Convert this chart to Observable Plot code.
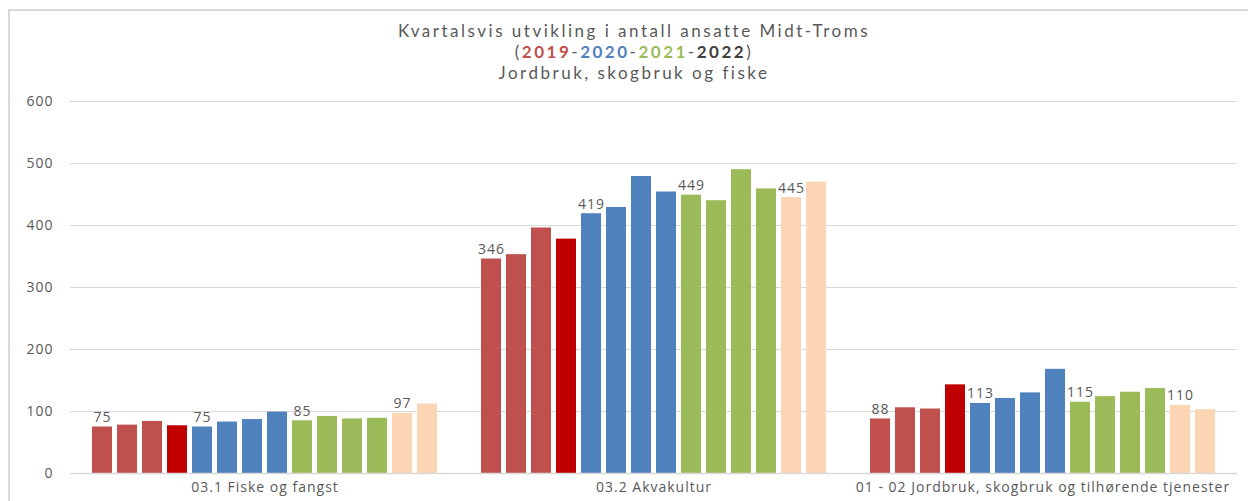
<!DOCTYPE html>
<html>
<head>
<meta charset="utf-8">
<script src="https://cdn.jsdelivr.net/npm/d3@7"></script>
<script src="https://cdn.jsdelivr.net/npm/@observablehq/plot@0.6"></script>
<style>
  html, body { margin: 0; padding: 0; background: #fff; }
  body { width: 1248px; height: 501px; position: relative; overflow: hidden; font-family: "Open Sans", sans-serif; }
  #frame { position: absolute; left: 8px; top: 9px; width: 1300px; height: 600px; border-top: 2px solid #d9d9d9; border-left: 2px solid #d9d9d9; }
  #title { position: absolute; top: 20px; left: 20px; width: 1228px; text-align: center; color: #595959; font-family: Lato, sans-serif; font-size: 17px; line-height: 21px; letter-spacing: 2.5px; }
  #title div { height: 21px; }
  #title b { font-weight: 700; }
  #chart { position: absolute; top: 88px; left: 0; }
</style>
</head>
<body>
<div id="frame"></div>
<div id="title">
  <div>Kvartalsvis utvikling i antall ansatte Midt-Troms</div>
  <div>(<b style="color:#C0504D">2019</b>-<b style="color:#4F81BD">2020</b>-<b style="color:#9BBB59">2021</b>-<b style="color:#404040">2022</b>)</div>
  <div>Jordbruk, skogbruk og fiske</div>
</div>
<div id="chart"></div>
<script>
const categories = ["03.1 Fiske og fangst", "03.2 Akvakultur", "01 - 02 Jordbruk, skogbruk og tilhørende tjenester"];
const quarters = ["2019K1","2019K2","2019K3","2019K4","2020K1","2020K2","2020K3","2020K4","2021K1","2021K2","2021K3","2021K4","2022K1","2022K2"];
const fiske = [75, 78, 84, 77, 75, 83, 87, 99, 85, 92, 88, 89, 97, 112];
const akvakultur = [346, 353, 396, 378, 419, 429, 479, 454, 449, 440, 490, 459, 445, 470];
const jordbruk = [88, 106, 104, 143, 113, 121, 130, 168, 115, 124, 131, 137, 110, 103];
const yTicks = [0, 100, 200, 300, 400, 500, 600];
const palette = ["#C0504D","#C0504D","#C0504D","#C00000","#4F81BD","#4F81BD","#4F81BD","#4F81BD","#9BBB59","#9BBB59","#9BBB59","#9BBB59","#FCD5B4","#FCD5B4"];

const series = [fiske, akvakultur, jordbruk];
const data = [];
categories.forEach((c, i) => quarters.forEach((q, j) => data.push({cat: c, q, v: series[i][j]})));
const labelled = data.filter(d => d.q.endsWith("K1"));

const chart = Plot.plot({
  width: 1248,
  height: 413,
  marginLeft: 69,
  marginRight: 11,
  marginTop: 13,
  marginBottom: 28,
  style: {fontFamily: "Open Sans, sans-serif", fontSize: "14px", color: "#595959", background: "transparent", letterSpacing: "1px"},
  fx: {domain: categories, padding: 0, label: null, tickSize: 0, tickPadding: 9},
  x: {domain: quarters, axis: null, paddingInner: 0.2, paddingOuter: 0.85},
  y: {domain: [0, 600], ticks: yTicks, label: null, tickSize: 0, tickPadding: 17},
  color: {domain: quarters, range: palette},
  marks: [
    Plot.gridY(yTicks, {stroke: "#d9d9d9", strokeOpacity: 1, strokeWidth: 1}),
    Plot.barY(data, {fx: "cat", x: "q", y: "v", fill: "q"}),
    Plot.text(labelled, {fx: "cat", x: "q", y: "v", text: d => String(d.v), lineAnchor: "bottom", dy: -5, fill: "#595959", fontSize: 14}),
    Plot.ruleY([0], {stroke: "#d9d9d9", strokeWidth: 1.5})
  ]
});
document.getElementById("chart").appendChild(chart);

// keep the last category label inside the plot area, like the original
const fxTexts = d3.select(chart).selectAll("[aria-label='fx-axis tick label'] text").nodes();
if (fxTexts.length) {
  const last = fxTexts[fxTexts.length - 1];
  const bb = last.getBoundingClientRect();
  const limit = 1232;
  if (bb.right > limit) {
    const shift = bb.right - limit;
    const tr = last.getAttribute("transform") || "";
    last.setAttribute("transform", tr + ` translate(${-shift},0)`);
  }
}
</script>
</body>
</html>
